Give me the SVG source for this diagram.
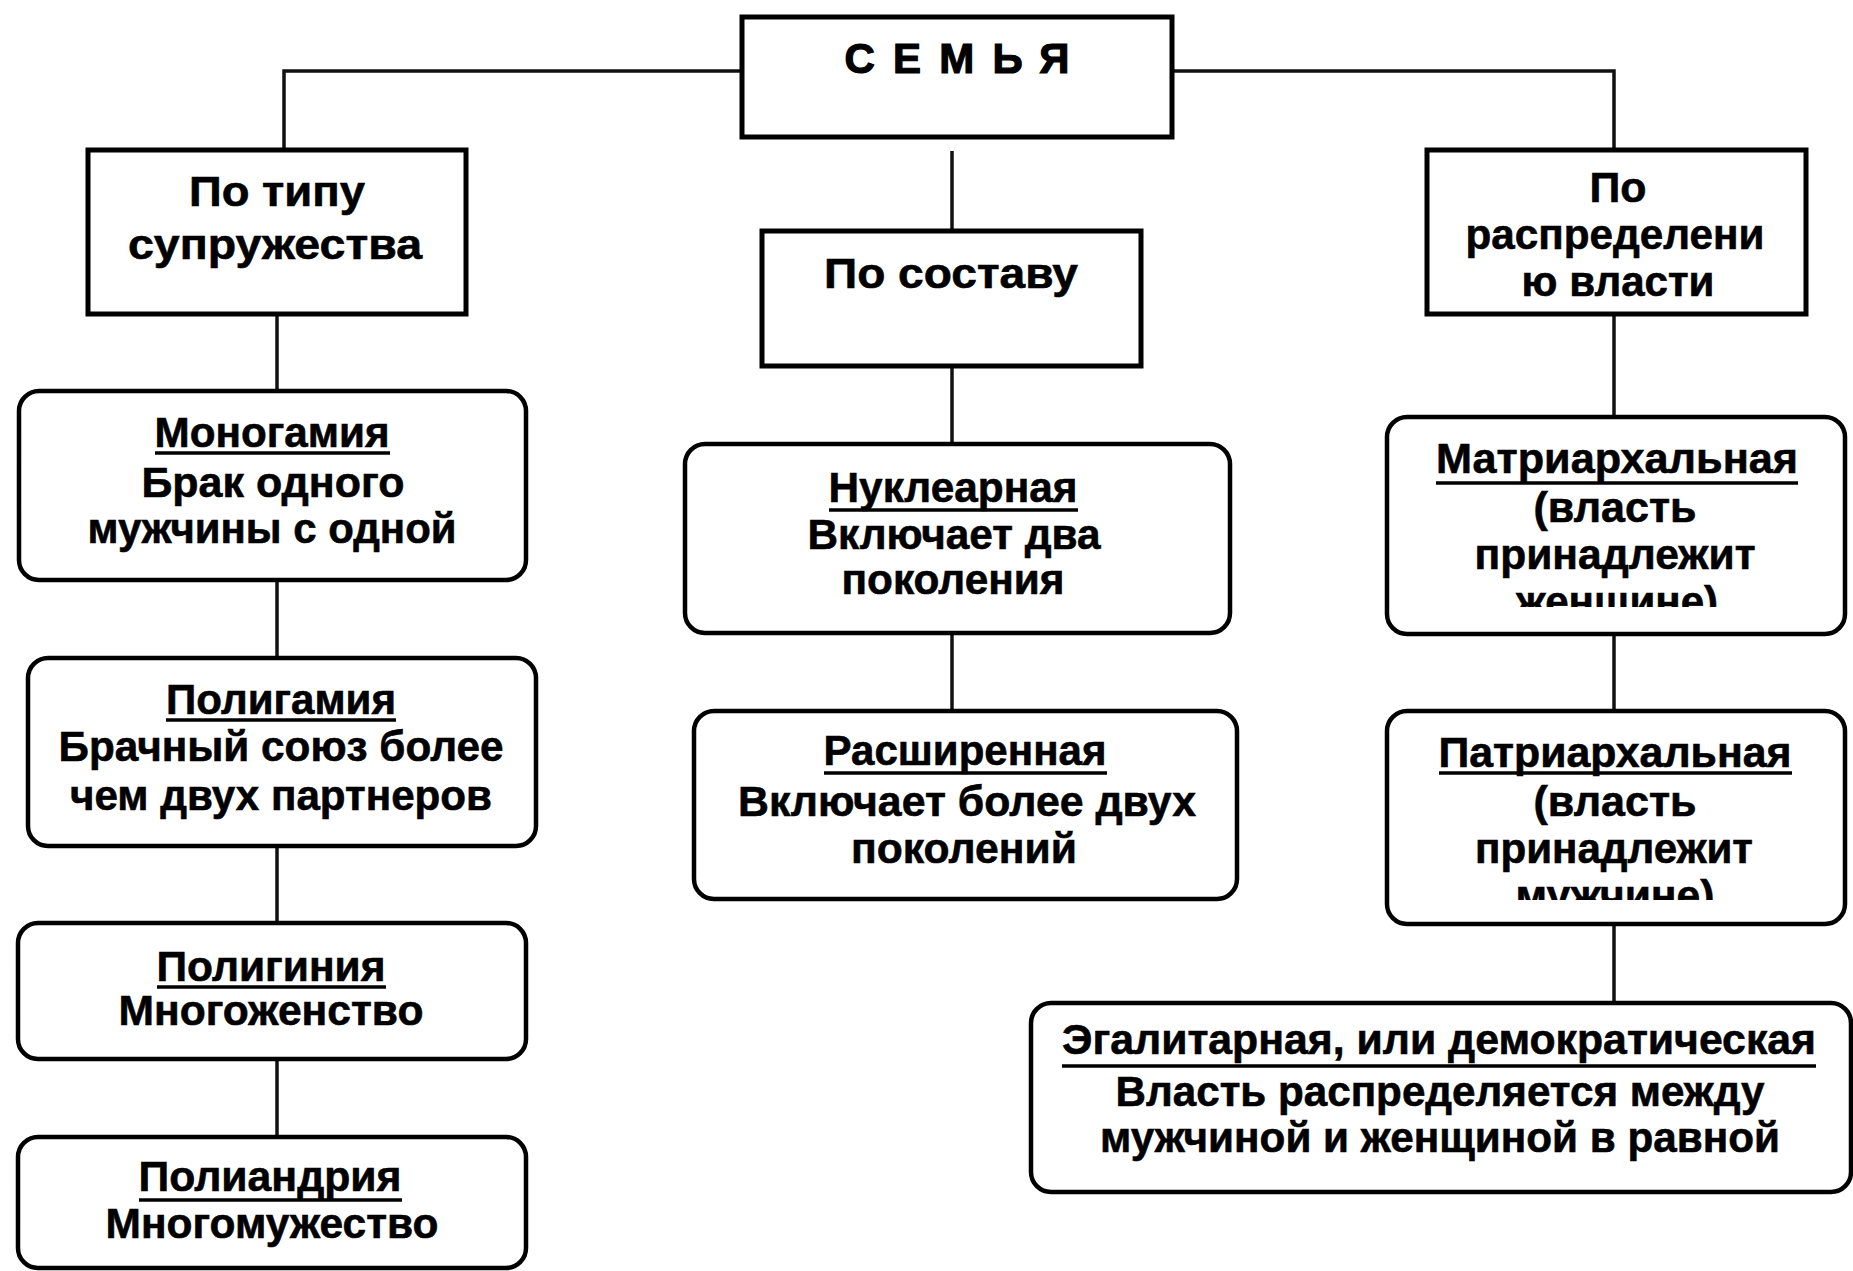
<svg xmlns="http://www.w3.org/2000/svg" width="1853" height="1271" viewBox="0 0 1853 1271">
<style>
.bg{fill:#fff}
.box{fill:#fff;stroke:#000;stroke-width:5}
.rbox{fill:#fff;stroke:#000;stroke-width:4.5}
.con{fill:none;stroke:#111;stroke-width:3.5}
.ul{stroke:#000;stroke-width:3.5}
.t{font-family:"Liberation Sans",Arial,sans-serif;font-weight:bold;font-size:43px;text-anchor:middle;fill:#000;stroke:#000;stroke-width:0.6}
.h{font-family:"Liberation Sans",Arial,sans-serif;font-weight:bold;font-size:42px;text-anchor:middle;fill:#000;stroke:#000;stroke-width:1.2}
</style>
<defs>
<clipPath id="clipM"><rect x="1387" y="417" width="458" height="190"/></clipPath>
<clipPath id="clipP"><rect x="1387" y="711" width="458" height="189"/></clipPath>
</defs>
<rect class="bg" x="0" y="0" width="1853" height="1271"/>
<g id="connectors">
<path class="con" d="M742,71 H284 V151"/>
<path class="con" d="M1172,71 H1614 V151"/>
<path class="con" d="M952,151 V231"/>
<path class="con" d="M952,366 V444"/>
<path class="con" d="M952,633 V711"/>
<path class="con" d="M277,314 V391"/>
<path class="con" d="M277,580 V658"/>
<path class="con" d="M277,846 V923"/>
<path class="con" d="M277,1059 V1137"/>
<path class="con" d="M1614,314 V417"/>
<path class="con" d="M1614,634 V711"/>
<path class="con" d="M1614,924 V1003"/>
</g>
<g id="semya">
<rect class="box" x="742" y="17" width="430" height="120" stroke-width="6"/>
<text class="h" x="957" y="73" textLength="225" lengthAdjust="spacing">СЕМЬЯ</text>
</g>
<g id="po-tipu">
<rect class="box" x="88" y="150" width="378" height="164"/>
<text class="t" x="277" y="206" textLength="176" lengthAdjust="spacingAndGlyphs">По типу</text>
<text class="t" x="275" y="259" textLength="294" lengthAdjust="spacingAndGlyphs">супружества</text>
</g>
<g id="po-sostavu">
<rect class="box" x="762" y="231" width="379" height="135"/>
<text class="t" x="951" y="288" textLength="254" lengthAdjust="spacingAndGlyphs">По составу</text>
</g>
<g id="po-raspredeleniyu">
<rect class="box" x="1427" y="150" width="379" height="164"/>
<text class="t" x="1618" y="202" textLength="57" lengthAdjust="spacingAndGlyphs">По</text>
<text class="t" x="1615" y="249" textLength="299" lengthAdjust="spacingAndGlyphs">распределени</text>
<text class="t" x="1618" y="296" textLength="193" lengthAdjust="spacingAndGlyphs">ю власти</text>
</g>
<g id="monogamiya">
<rect class="rbox" x="19" y="391" width="507" height="189" rx="20"/>
<text class="t" x="272" y="447" textLength="235" lengthAdjust="spacingAndGlyphs">Моногамия</text>
<line class="ul" x1="155" y1="453" x2="390" y2="453"/>
<text class="t" x="273" y="497" textLength="263" lengthAdjust="spacingAndGlyphs">Брак одного</text>
<text class="t" x="272" y="543" textLength="369" lengthAdjust="spacingAndGlyphs">мужчины с одной</text>
</g>
<g id="poligamiya">
<rect class="rbox" x="28" y="658" width="508" height="188" rx="20"/>
<text class="t" x="281" y="714" textLength="230" lengthAdjust="spacingAndGlyphs">Полигамия</text>
<line class="ul" x1="166" y1="720" x2="396" y2="720"/>
<text class="t" x="281" y="761" textLength="445" lengthAdjust="spacingAndGlyphs">Брачный союз более</text>
<text class="t" x="281" y="810" textLength="422" lengthAdjust="spacingAndGlyphs">чем двух партнеров</text>
</g>
<g id="poliginiya">
<rect class="rbox" x="18" y="923" width="508" height="136" rx="20"/>
<text class="t" x="271" y="981" textLength="229" lengthAdjust="spacingAndGlyphs">Полигиния</text>
<line class="ul" x1="157" y1="987" x2="386" y2="987"/>
<text class="t" x="271" y="1025" textLength="305" lengthAdjust="spacingAndGlyphs">Многоженство</text>
</g>
<g id="poliandriya">
<rect class="rbox" x="18" y="1137" width="508" height="131" rx="20"/>
<text class="t" x="270" y="1191" textLength="263" lengthAdjust="spacingAndGlyphs">Полиандрия</text>
<line class="ul" x1="139" y1="1200" x2="402" y2="1200"/>
<text class="t" x="272" y="1238" textLength="333" lengthAdjust="spacingAndGlyphs">Многомужество</text>
</g>
<g id="nuklearnaya">
<rect class="rbox" x="685" y="444" width="545" height="189" rx="20"/>
<text class="t" x="953" y="502" textLength="249" lengthAdjust="spacingAndGlyphs">Нуклеарная</text>
<line class="ul" x1="829" y1="510" x2="1078" y2="510"/>
<text class="t" x="954" y="549" textLength="293" lengthAdjust="spacingAndGlyphs">Включает два</text>
<text class="t" x="953" y="594" textLength="223" lengthAdjust="spacingAndGlyphs">поколения</text>
</g>
<g id="rasshirennaya">
<rect class="rbox" x="694" y="711" width="543" height="188" rx="20"/>
<text class="t" x="965" y="765" textLength="283" lengthAdjust="spacingAndGlyphs">Расширенная</text>
<line class="ul" x1="824" y1="773" x2="1107" y2="773"/>
<text class="t" x="967" y="816" textLength="458" lengthAdjust="spacingAndGlyphs">Включает более двух</text>
<text class="t" x="964" y="863" textLength="226" lengthAdjust="spacingAndGlyphs">поколений</text>
</g>
<g id="matriarkhalnaya">
<rect class="rbox" x="1387" y="417" width="458" height="217" rx="20"/>
<text class="t" x="1617" y="473" textLength="362" lengthAdjust="spacingAndGlyphs">Матриархальная</text>
<line class="ul" x1="1436" y1="483" x2="1798" y2="483"/>
<text class="t" x="1615" y="522" textLength="163" lengthAdjust="spacingAndGlyphs">(власть</text>
<text class="t" x="1615" y="569" textLength="281" lengthAdjust="spacingAndGlyphs">принадлежит</text>
<text class="t" x="1617" y="616" textLength="202" lengthAdjust="spacingAndGlyphs" clip-path="url(#clipM)">женщине)</text>
</g>
<g id="patriarkhalnaya">
<rect class="rbox" x="1387" y="711" width="458" height="213" rx="20"/>
<text class="t" x="1615" y="767" textLength="353" lengthAdjust="spacingAndGlyphs">Патриархальная</text>
<line class="ul" x1="1439" y1="773" x2="1792" y2="773"/>
<text class="t" x="1615" y="816" textLength="163" lengthAdjust="spacingAndGlyphs">(власть</text>
<text class="t" x="1614" y="863" textLength="278" lengthAdjust="spacingAndGlyphs">принадлежит</text>
<text class="t" x="1615" y="910" textLength="199" lengthAdjust="spacingAndGlyphs" clip-path="url(#clipP)">мужчине)</text>
</g>
<g id="egalitarnaya">
<rect class="rbox" x="1031" y="1003" width="820" height="189" rx="20"/>
<text class="t" x="1439" y="1054" textLength="754" lengthAdjust="spacingAndGlyphs">Эгалитарная, или демократическая</text>
<line class="ul" x1="1062" y1="1066" x2="1816" y2="1066"/>
<text class="t" x="1440" y="1106" textLength="649" lengthAdjust="spacingAndGlyphs">Власть распределяется между</text>
<text class="t" x="1440" y="1152" textLength="680" lengthAdjust="spacingAndGlyphs">мужчиной и женщиной в равной</text>
</g>
</svg>
